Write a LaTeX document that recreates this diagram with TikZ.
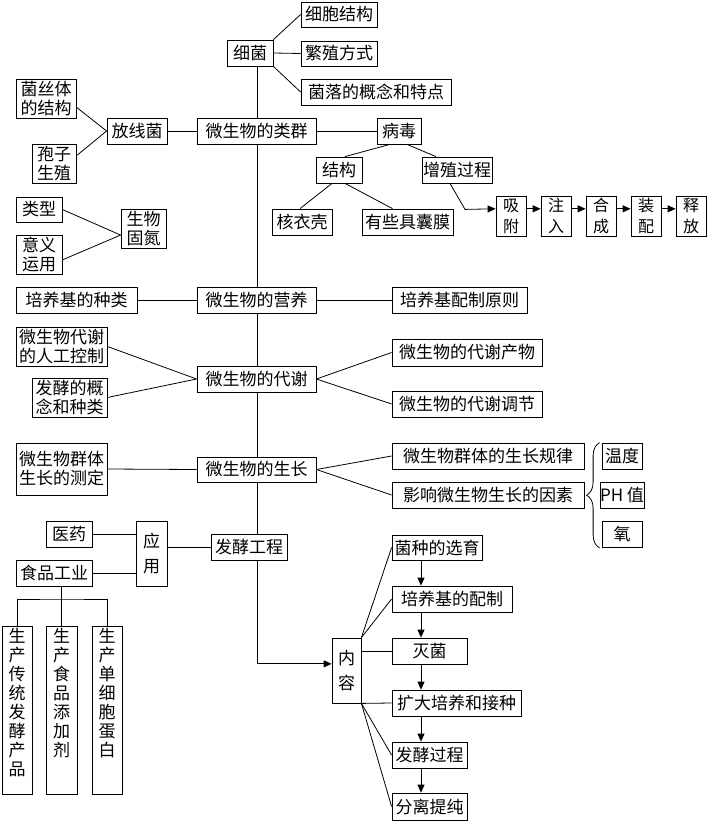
\documentclass[tikz,border=0pt]{standalone}
\usepackage{fontspec}
\setmainfont{Noto Sans CJK SC}
\usetikzlibrary{arrows.meta,decorations.pathreplacing}

\begin{document}
\begin{tikzpicture}[
    x=1pt, y=-1pt,
    box/.style={draw, line width=0.8pt, inner sep=0pt, align=center,
        font={\fontsize{17}{19}\selectfont}},
    wh/.style 2 args={minimum width=#1pt, minimum height=#2pt},
    tallbox/.style={box, font={\fontsize{17}{25}\selectfont}},
    stepbox/.style={box, font={\fontsize{16}{21}\selectfont}},
    colbox/.style={box, text width=#1pt, text height=16pt, text depth=152pt},
    link/.style={line width=0.8pt},
    arr/.style={line width=0.8pt, -{Triangle[length=8pt,width=7pt]}},
    ]
    \useasboundingbox (0,0) rectangle (707,821);
    % reference columns
    \coordinate (tr) at (257,0);
    \coordinate (ax) at (421,0);

    % bacteria
    \node[box, wh={46}{26}] (xijun) at (250,53) {细菌};
    \node[box, wh={76}{25}] (xbjg) at (339,14.5) {细胞结构};
    \node[box, wh={76}{25}] (fzfs) at (339,53.5) {繁殖方式};
    \node[box, wh={150}{26}] (jltd) at (376,92) {菌落的概念和特点};
    \draw[link] (xijun.north east) -- (xbjg.west);
    \draw[link] (xijun.east) -- (fzfs.west);
    \draw[link] (xijun.south east) -- (jltd.west);

    % groups row
    \node[box, wh={119}{26}] (leiqun) at (256.5,131) {微生物的类群};
    \node[box, wh={60}{26}] (fxj) at (137,131) {放线菌};
    \node[box, wh={60}{39}] (jstjg) at (46,98.5) {菌丝体\\的结构};
    \node[box, wh={44}{39}] (bzsz) at (54,163.5) {孢子\\生殖};
    \node[box, wh={44}{26}] (bingdu) at (399,131) {病毒};
    \draw[link] (leiqun.west) -- (fxj.west -| fxj.east);
    \draw[link] (leiqun.east) -- (bingdu.west);
    \draw[link] (jstjg.-16) -- (fxj.west);
    \draw[link] (bzsz.19) -- (fxj.west);

    % virus
    \node[box, wh={46}{26}] (jiegou) at (339,170) {结构};
    \node[box, wh={70}{26}] (zzgc) at (457,170) {增殖过程};
    \node[box, wh={60}{26}] (hyk) at (302,222) {核衣壳};
    \node[box, wh={91}{26}] (nangmo) at (407.5,222) {有些具囊膜};
    \draw[link] ([xshift=-9pt]bingdu.south) -- ([xshift=6pt]jiegou.north);
    \draw[link] ([xshift=8pt]bingdu.south) -- ([xshift=-21pt]zzgc.north);
    \draw[link] ([xshift=-7pt]jiegou.south) -- ([xshift=-2pt]hyk.north);
    \draw[link] ([xshift=6pt]jiegou.south) -- ([xshift=-15pt]nangmo.north);

    % multiplication steps
    \node[stepbox, wh={30}{40}] (xf) at (511,216) {吸\\附};
    \node[stepbox, wh={30}{40}] (zr) at (556,216) {注\\入};
    \node[stepbox, wh={30}{40}] (hc) at (601,216) {合\\成};
    \node[stepbox, wh={30}{40}] (zp) at (646,216) {装\\配};
    \node[stepbox, wh={30}{40}] (sf) at (691,216) {释\\放};
    \draw[arr] ([xshift=-7pt]zzgc.south) -- ++(15,26) -- (xf.155);
    \draw[arr] (xf.25) -- (zr.155);
    \draw[arr] (zr.25) -- (hc.155);
    \draw[arr] (hc.25) -- (zp.155);
    \draw[arr] (zp.25) -- (sf.155);

    % nitrogen fixation
    \node[box, wh={46}{25}] (leixing) at (39,209.5) {类型};
    \node[box, wh={46}{39}] (yiyi) at (39,254.5) {意义\\运用};
    \node[box, wh={45}{39}] (gudan) at (143.5,228.5) {生物\\固氮};
    \draw[link] (leixing.east) -- (gudan.196);
    \draw[link] (yiyi.-13) -- (gudan.196);

    % nutrition
    \node[box, wh={119}{26}] (yingyang) at (256.5,300) {微生物的营养};
    \node[box, wh={121}{26}] (pyjzl) at (76.5,300) {培养基的种类};
    \node[box, wh={135}{26}] (pzyz) at (459.5,300) {培养基配制原则};
    \draw[link] (yingyang.west) -- (pyjzl.east);
    \draw[link] (yingyang.east) -- (pzyz.west);

    % metabolism
    \node[box, wh={119}{26}] (daixie) at (256.5,379) {微生物的代谢};
    \node[box, wh={91}{39}] (rgkz) at (61.5,346.5) {微生物代谢\\的人工控制};
    \node[box, wh={75}{39}] (fjgn) at (69.5,397.5) {发酵的概\\念和种类};
    \node[box, wh={150}{27}] (dxcw) at (467,352.5) {微生物的代谢产物};
    \node[box, wh={150}{26}] (dxtj) at (467,404) {微生物的代谢调节};
    \draw[link] (daixie.west) -- (rgkz.east);
    \draw[link] (daixie.west) -- (fjgn.east);
    \draw[link] (daixie.east) -- (dxcw.west);
    \draw[link] (daixie.east) -- (dxtj.west);

    % growth
    \node[box, wh={119}{25}] (shengzhang) at (256.5,469.5) {微生物的生长};
    \node[box, wh={91}{52}] (cd) at (61.5,469) {微生物群体\\生长的测定};
    \node[box, wh={192}{26}] (gl) at (488,456) {微生物群体的生长规律};
    \node[box, wh={192}{26}] (ys) at (488,495) {影响微生物生长的因素};
    \node[box, wh={40}{26}] (wendu) at (622,456) {温度};
    \node[box, wh={40}{26}] (ph) at (622,495) {PH 值};
    \node[box, wh={40}{26}] (yang) at (622,534.5) {氧};
    \draw[link] (shengzhang.west) -- (cd.east);
    \draw[link] (shengzhang.east) -- (gl.west);
    \draw[link] (shengzhang.east) -- (ys.west);
    \draw[link, decorate, decoration={brace, amplitude=13pt}]
        ([xshift=-2pt]yang.south west) -- ([xshift=-2pt]wendu.north west);

    % main trunk
    \node[box, wh={76}{26}] (fjgc) at (249,547) {发酵工程};
    \draw[link] (xijun.south -| tr) -- (leiqun.north -| tr);
    \draw[link] (leiqun.south -| tr) -- (yingyang.north -| tr);
    \draw[link] (yingyang.south -| tr) -- (daixie.north -| tr);
    \draw[link] (daixie.south -| tr) -- (shengzhang.north -| tr);
    \draw[link] (shengzhang.south -| tr) -- (fjgc.north -| tr);

    % applications
    \node[tallbox, wh={31}{65}] (yingyong) at (151.5,553.5) {应\\用};
    \node[box, wh={46}{26}] (yiyao) at (69,534) {医药};
    \node[box, wh={76}{26}] (spgy) at (54,573) {食品工业};
    \node[colbox=30, anchor=north] (cp1) at (17,626) {生\\产\\传\\统\\发\\酵\\产\\品};
    \node[colbox=31, anchor=north] (cp2) at (61.5,626) {生\\产\\食\\品\\添\\加\\剂};
    \node[colbox=30, anchor=north] (cp3) at (107,626) {生\\产\\单\\细\\胞\\蛋\\白};
    \coordinate (fork) at (61.5,599);
    \draw[link] (yiyao.east) -- (yiyao.east -| yingyong.west);
    \draw[link] (spgy.east) -- (spgy.east -| yingyong.west);
    \draw[link] (fjgc.west -| yingyong.east) -- (fjgc.west);
    \draw[link] (spgy.south -| fork) -- (cp2.north);
    \draw[link] (cp1.north) |- (fork) -| (cp3.north);

    % fermentation content
    \node[tallbox, wh={29}{65}] (neirong) at (346.5,670.5) {内\\容};
    \node[box, wh={90}{25}] (xy) at (437,547.5) {菌种的选育};
    \node[box, wh={120}{26}] (pz) at (452,599) {培养基的配制};
    \node[box, wh={75}{26}] (mj) at (429.5,651) {灭菌};
    \node[box, wh={129}{26}] (kd) at (456.5,703) {扩大培养和接种};
    \node[box, wh={75}{26}] (fjgc2) at (429.5,755) {发酵过程};
    \node[box, wh={75}{27}] (fl) at (429.5,806.5) {分离提纯};
    \draw[arr] (fjgc.south -| tr) |- (neirong.156);
    \draw[link] (neirong.north east) -- (xy.west);
    \draw[link] (neirong.north east) -- (pz.west);
    \draw[link] (mj.west -| neirong.east) -- (mj.west);
    \draw[link] (neirong.south east) -- (kd.west);
    \draw[link] (neirong.south east) -- (fjgc2.west);
    \draw[link] (neirong.south east) -- (fl.west);
    \draw[arr] (xy.south -| ax) -- (pz.north -| ax);
    \draw[arr] (pz.south -| ax) -- (mj.north -| ax);
    \draw[arr] (mj.south -| ax) -- (kd.north -| ax);
    \draw[arr] (kd.south -| ax) -- (fjgc2.north -| ax);
    \draw[arr] (fjgc2.south -| ax) -- (fl.north -| ax);
\end{tikzpicture}
\end{document}
